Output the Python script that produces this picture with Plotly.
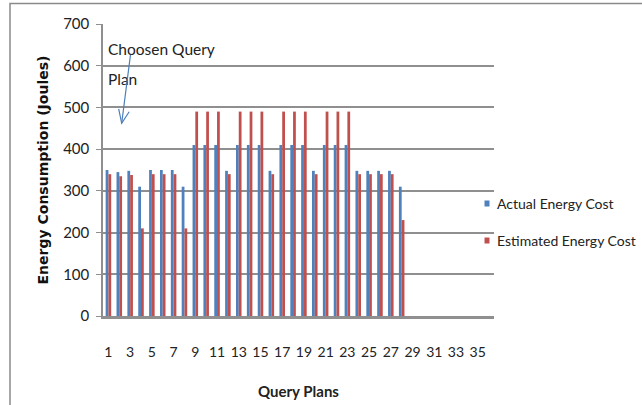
import plotly.graph_objects as go

# Query plan ids and measured / estimated energy (Joules)
plans = list(range(1, 37))
actual_cost = [350, 345, 348, 310, 350, 350, 350, 310,
               410, 410, 410, 348, 410, 410, 410, 348,
               410, 410, 410, 348, 410, 410, 410, 348,
               348, 348, 348, 310, 0, 0, 0, 0, 0, 0, 0, 0]
estimated_cost = [340, 335, 338, 210, 340, 340, 340, 210,
                  490, 490, 490, 340, 490, 490, 490, 340,
                  490, 490, 490, 340, 490, 490, 490, 340,
                  340, 340, 340, 230, 0, 0, 0, 0, 0, 0, 0, 0]
series_names = ["Actual Energy Cost", "Estimated Energy Cost"]
series_colors = ["#4f81bd", "#c0504d"]
y_ticks = [0, 100, 200, 300, 400, 500, 600, 700]
x_ticks = list(range(1, 36, 2))

W, H = 642, 405
ML, MR, MT, MB = 103, 148, 24, 89
PW, PH = W - ML - MR, H - MT - MB


def px(xp):
    return (xp - ML) / PW


def py(yp):
    return (H - MB - yp) / PH


TXT = "Lato"
GRID = "#8f8f8f"
ARROW = "#4a7ebb"

fig = go.Figure()
for name, vals, col in zip(series_names, [actual_cost, estimated_cost], series_colors):
    fig.add_trace(go.Bar(x=plans, y=vals, name=name, marker=dict(color=col, line=dict(width=0)),
                         showlegend=False))

# callout arrow tip (data coordinates)
tip_x, tip_y = 2.22, 462

shapes = [
    # chart-area frame
    dict(type="rect", xref="paper", yref="paper", x0=px(10), x1=2, y0=-1, y1=py(3.5),
         line=dict(color="#8a8a8a", width=1.5), fillcolor="rgba(0,0,0,0)", layer="below"),
    # open V arrowhead
    dict(type="path", xref="x", yref="y", xsizemode="pixel", ysizemode="pixel",
         xanchor=tip_x, yanchor=tip_y, path="M-3,14.5 L0,0 L7.5,11.5",
         line=dict(color=ARROW, width=1.2)),
]
annotations = [
    dict(text="<b>Energy Consumption per Query Plan</b>", xref="paper", yref="paper",
         x=px(345), y=py(-1), xanchor="center", yanchor="bottom", showarrow=False,
         font=dict(family="Liberation Serif", size=18, color="#000")),
    dict(text="Choosen Query", xref="paper", yref="paper", x=px(106), y=py(49),
         xanchor="left", yanchor="middle", showarrow=False,
         font=dict(family=TXT, size=15.5, color="#222")),
    dict(text="Plan", xref="paper", yref="paper", x=px(106), y=py(79),
         xanchor="left", yanchor="middle", showarrow=False,
         font=dict(family=TXT, size=15.5, color="#222")),
    dict(text="", x=tip_x, y=tip_y, xref="x", yref="y", showarrow=True, ax=9, ay=-70,
         arrowhead=0, arrowwidth=1.2, arrowcolor=ARROW, standoff=0),
]

# legend entries
for i, (name, col) in enumerate(zip(series_names, series_colors)):
    yc = 203.5 + i * 37
    shapes.append(dict(type="rect", xref="paper", yref="paper", x0=px(484.5), x1=px(489.5),
                       y0=py(yc + 3), y1=py(yc - 3), fillcolor=col, line=dict(width=0)))
    annotations.append(dict(text=name, xref="paper", yref="paper", x=px(495), y=py(yc),
                            xanchor="left", yanchor="middle", showarrow=False,
                            font=dict(family=TXT, size=14, color="#222")))

fig.update_layout(
    width=W, height=H,
    margin=dict(l=ML, r=MR, t=MT, b=MB, autoexpand=False),
    paper_bgcolor="white", plot_bgcolor="white",
    barmode="group", bargap=0.49, bargroupgap=0,
    shapes=shapes, annotations=annotations,
    showlegend=False,
    xaxis=dict(range=[0.5, 36.5], tickmode="array", tickvals=x_ticks,
               ticktext=[str(v) for v in x_ticks], ticks="", ticklabelstandoff=21,
               showgrid=False, zeroline=False, showline=True, linecolor=GRID, linewidth=3,
               tickfont=dict(family=TXT, size=14, color="#222"),
               title=dict(text="Query Plans", standoff=28,
                          font=dict(family=TXT, size=15, color="#222", weight="bold"))),
    yaxis=dict(range=[0, 700], tickmode="array", tickvals=y_ticks, ticks="outside", ticklen=5,
               tickcolor=GRID, ticklabelstandoff=4,
               showgrid=True, gridcolor=GRID, gridwidth=1.6, zeroline=False,
               showline=True, linecolor=GRID, linewidth=1.5,
               tickfont=dict(family=TXT, size=15, color="#222"),
               title=dict(text="Energy Consumption (Joules)", standoff=11,
                          font=dict(family="DejaVu Sans", size=14, color="#111", weight="bold"))),
)

fig.write_html("out.html")
